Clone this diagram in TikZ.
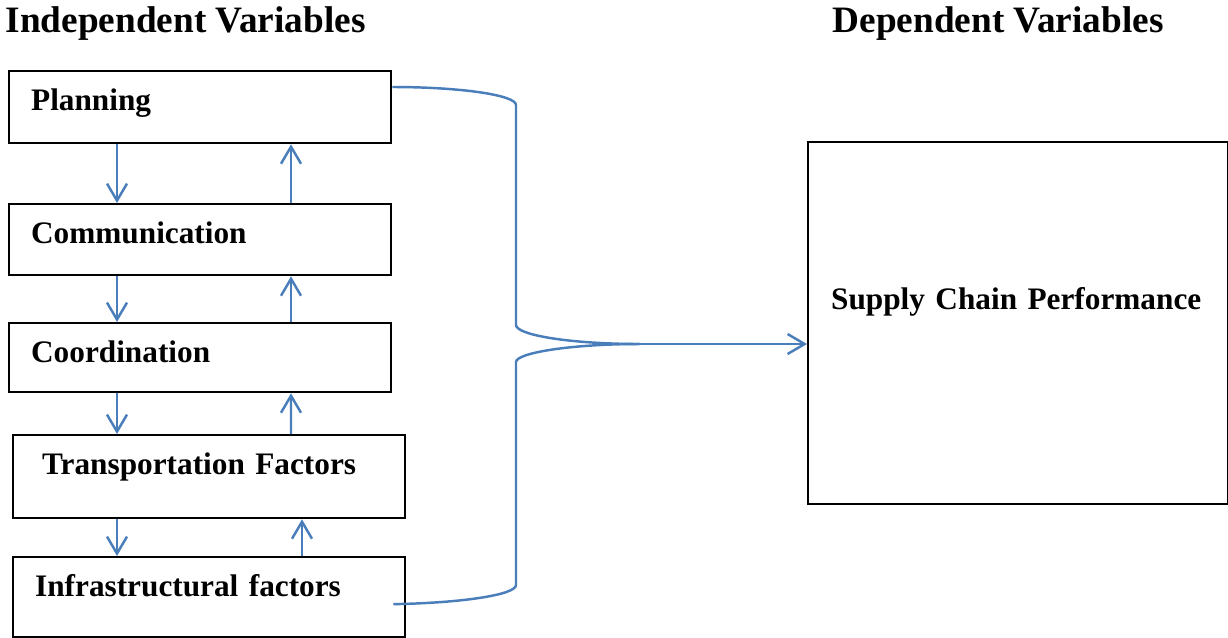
\documentclass[tikz,border=0pt]{standalone}
\usepackage{fontspec}
\setmainfont{Liberation Serif}
\usetikzlibrary{arrows.meta}
\definecolor{linkblue}{RGB}{74,126,187}
\newcommand{\boxfont}{\fontsize{8.9}{10}\selectfont\bfseries}
\newcommand{\headfont}{\fontsize{10.6}{12}\selectfont\bfseries}
\tikzset{
  varbox/.style={draw, line width=0.65pt, anchor=north west, inner xsep=0.22cm,
    inner ysep=0pt, text height=0.39cm, align=left, font=\boxfont},
  heading/.style={anchor=base west, inner sep=0pt, font=\headfont},
  link/.style={draw=linkblue, line width=0.7pt}
}
\begin{document}
\begin{tikzpicture}[>={Straight Barb[length=1.7mm,width=2mm]}]
\useasboundingbox (0,0) rectangle (12.28,6.37);
\node[heading] (indep) at (0.05,6.05) {Independent Variables};
\node[heading] (dep) at (8.32,6.05) {Dependent Variables};
\node[varbox, text width=3.38cm, text depth=0.33cm] (plan) at (0.08,5.67) {Planning};
\node[varbox, text width=3.38cm, text depth=0.32cm] (comm) at (0.08,4.34) {Communication};
\node[varbox, text width=3.38cm, text depth=0.30cm] (coord) at (0.08,3.15) {Coordination};
\node[varbox, inner xsep=0.29cm, text width=3.34cm, text depth=0.44cm] (trans) at (0.12,2.03) {Transportation Factors};
\node[varbox, text width=3.48cm, text depth=0.41cm] (infra) at (0.12,0.81) {Infrastructural factors};
\node[varbox, inner xsep=0.23cm, text width=3.74cm, text height=1.67cm, text depth=1.95cm] (perf) at (8.07,4.96) {Supply Chain Performance};
% arrows between the factors
\draw[link, ->] ([xshift=1.09cm]plan.south west) -- ([xshift=1.09cm]comm.north west);
\draw[link, ->] ([xshift=2.83cm]comm.north west) -- ([xshift=2.83cm]plan.south west);
\draw[link, ->] ([xshift=1.09cm]comm.south west) -- ([xshift=1.09cm]coord.north west);
\draw[link, ->] ([xshift=2.83cm]coord.north west) -- ([xshift=2.83cm]comm.south west);
\draw[link, ->] ([xshift=1.09cm]coord.south west) -- ([xshift=1.05cm]trans.north west);
\draw[link, ->] ([xshift=2.79cm]trans.north west) -- ([xshift=2.83cm]coord.south west);
\draw[link, ->] ([xshift=1.05cm]trans.south west) -- ([xshift=1.05cm]infra.north west);
\draw[link, ->] ([xshift=2.90cm]infra.north west) -- ([xshift=2.90cm]trans.south west);
% brace into the performance box
\coordinate (brtop) at (5.16,5.32);
\coordinate (brup) at (5.16,3.12);
\coordinate (brtip) at (6.40,2.93);
\coordinate (brlow) at (5.16,2.75);
\coordinate (brbot) at (5.16,0.52);
\draw[link] ([yshift=-0.17cm]plan.north east) .. controls (4.60,5.50) and (5.16,5.42) .. (brtop)
  -- (brup) .. controls (5.16,3.02) and (5.70,2.93) .. (brtip);
\draw[link] ([xshift=-0.13cm, yshift=-0.07cm]infra.east) .. controls (4.60,0.34) and (5.16,0.42) .. (brbot)
  -- (brlow) .. controls (5.16,2.84) and (5.70,2.93) .. (brtip);
\draw[link, ->] (brtip) -- (brtip -| perf.west);
\end{tikzpicture}
\end{document}
